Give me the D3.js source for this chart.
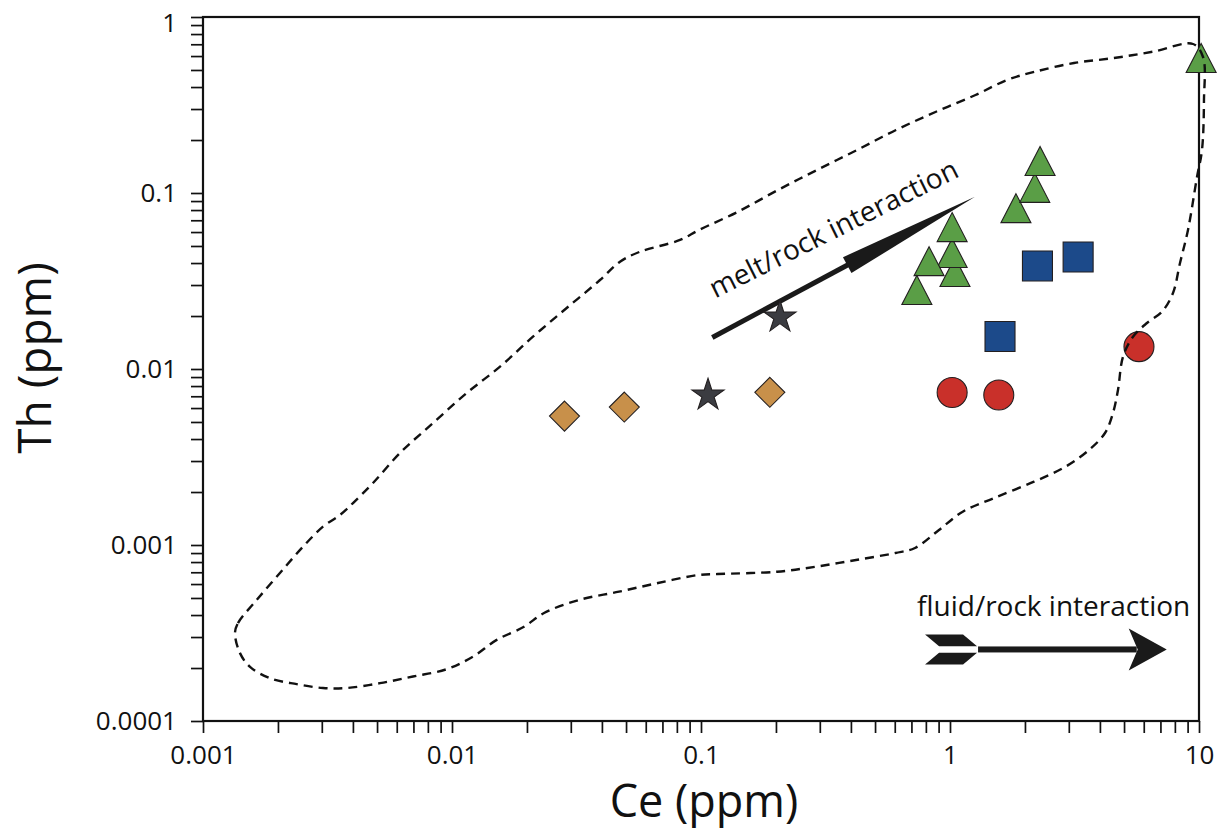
<!DOCTYPE html>
<html>
<head>
<meta charset="utf-8">
<script src="https://cdn.jsdelivr.net/npm/d3@7"></script>
<style>
  html, body { margin: 0; padding: 0; background: #fff; }
  svg { display: block; font-family: "Open Sans", "DejaVu Sans", sans-serif; }
</style>
</head>
<body>
<svg id="chart" width="1227" height="832"></svg>
<script>
// ---------------- data ----------------
const ceTickLabels = ["0.001", "0.01", "0.1", "1", "10"];
const thTickLabels = ["0.0001", "0.001", "0.01", "0.1", "1"];

// green triangles
const triCe = [1.047, 1.02, 1.02, 0.824, 0.736, 1.84, 2.19, 2.30, 10.2];
const triTh = [0.0356, 0.0456, 0.064, 0.041, 0.0281, 0.082, 0.107, 0.152, 0.585];
// blue squares
const sqCe = [2.245, 3.27, 1.588];
const sqTh = [0.0385, 0.0433, 0.0153];
// red circles
const cirCe = [1.02, 1.57, 5.74];
const cirTh = [0.00735, 0.00712, 0.0134];
// orange diamonds
const diaCe = [0.0283, 0.0492, 0.189];
const diaTh = [0.0054, 0.00608, 0.00737];
// dark stars
const starCe = [0.1067, 0.2075];
const starTh = [0.0071, 0.0197];

// dashed envelope (closed)
const envCe = [0.001344, 0.001382, 0.001643, 0.002037, 0.002522, 0.003033, 0.00355, 0.004004, 0.004817, 0.006182,
  0.008389, 0.01146, 0.01559, 0.02114, 0.02888, 0.0393, 0.04728, 0.05689, 0.08236, 0.09817,
  0.1408, 0.2037, 0.2922, 0.4231, 0.6069, 0.8786, 1.266, 1.694, 2.194, 3.148,
  4.556, 6.537, 9.461, 10.38, 10.47, 10.28, 9.817, 9.032, 8.389, 7.863,
  7.102, 6.182, 5.432, 4.953, 4.728, 4.514, 4.193, 3.615, 2.91, 2.174,
  1.502, 1.125, 0.9033, 0.7235, 0.6041, 0.4193, 0.2895, 0.2019, 0.1166, 0.09727,
  0.06721, 0.04685, 0.03236, 0.02342, 0.01946, 0.01512, 0.01214, 0.009522, 0.006972, 0.005138,
  0.003777, 0.003033, 0.002378, 0.001858, 0.001545, 0.001408];
const envTh = [0.000316, 0.00036, 0.000487, 0.000693, 0.000978, 0.001271, 0.001481, 0.001732, 0.002251, 0.003332,
  0.004933, 0.007305, 0.01031, 0.01526, 0.02221, 0.03203, 0.04072, 0.04639, 0.05408, 0.06163,
  0.07828, 0.104, 0.1351, 0.1755, 0.228, 0.2896, 0.3604, 0.4386, 0.4889, 0.5477,
  0.5848, 0.6353, 0.7024, 0.5926, 0.3376, 0.1755, 0.1233, 0.06163, 0.04002, 0.02703,
  0.02116, 0.01826, 0.01526, 0.01175, 0.0076, 0.005623, 0.004328, 0.003465, 0.002786, 0.002289,
  0.001849, 0.001546, 0.001217, 0.000962, 0.000901, 0.000822, 0.000753, 0.000705, 0.000684, 0.000675,
  0.000608, 0.000543, 0.000487, 0.000411, 0.000343, 0.000289, 0.000232, 0.000197, 0.000179, 0.000164,
  0.000154, 0.000154, 0.000162, 0.000175, 0.000203, 0.000243];

// annotation arrows (data coordinates)
const meltArrowCe = [0.111, 1.26];     // tail, tip
const meltArrowTh = [0.0151, 0.0953];
const fluidArrowCe = [0.794, 7.42];    // tail, tip
const fluidArrowTh = [0.000255, 0.000255];

// ---------------- layout ----------------
const svg = d3.select("#chart");
const L = 203, R = 1199, T = 17, B = 721;
const x = d3.scaleLog().domain([0.001, 10]).range([L, R]);
const y = d3.scaleLog().domain([0.0001, 1]).range([B, T]);
const isPow10 = v => Math.abs(Math.log10(v) - Math.round(Math.log10(v))) < 1e-9;

const stroke = "#231f20";
const fontTick = 26;

// axes
const xAxis = d3.axisBottom(x)
  .tickValues(x.ticks())
  .tickSize(12)
  .tickPadding(13)
  .tickFormat(d => isPow10(d) ? ceTickLabels[Math.round(Math.log10(d)) + 3] : "");
const gx = svg.append("g").attr("transform", `translate(0,${B})`).call(xAxis);

const yAxis = d3.axisLeft(y)
  .tickValues(y.ticks())
  .tickSize(12)
  .tickPadding(14)
  .tickFormat(d => isPow10(d) ? thTickLabels[Math.round(Math.log10(d)) + 4] : "");
const gy = svg.append("g").attr("transform", `translate(${L},0)`).call(yAxis);

[gx, gy].forEach(g => {
  g.select(".domain").remove();
  g.selectAll(".tick line").attr("stroke", "#111").attr("stroke-width", 1.7);
  g.selectAll(".tick text")
    .filter(function () { return this.textContent === ""; }).remove();
  g.selectAll(".tick text").attr("fill", "#111")
    .style("font-family", '"Open Sans", sans-serif')
    .style("font-size", fontTick + "px");
});
// the top label "1" sits a little below its tick in the reference
gy.selectAll(".tick text").filter(d => d === 1).attr("dy", "0.55em");

// frame
svg.append("rect")
  .attr("x", L).attr("y", T).attr("width", R - L).attr("height", B - T)
  .attr("fill", "none").attr("stroke", "#111").attr("stroke-width", 2.2);

// axis titles
svg.append("text")
  .attr("x", (L + R) / 2 + 3).attr("y", 817)
  .attr("text-anchor", "middle")
  .style("font-size", "45px").attr("fill", "#111")
  .text("Ce (ppm)");
svg.append("text")
  .attr("transform", `translate(51,358) rotate(-90)`)
  .attr("text-anchor", "middle")
  .style("font-size", "46px").attr("fill", "#111")
  .text("Th (ppm)");

// ---------------- annotations ----------------
// melt/rock arrow
(function () {
  const x0 = x(meltArrowCe[0]), y0 = y(meltArrowTh[0]);
  const x1 = x(meltArrowCe[1]), y1 = y(meltArrowTh[1]);
  const dx = x1 - x0, dy = y1 - y0, len = Math.hypot(dx, dy);
  const ux = dx / len, uy = dy / len, nx = -uy, ny = ux;
  const headLen = 145, headHalf = 9;
  const bx = x1 - ux * headLen, by = y1 - uy * headLen;
  svg.append("line")
    .attr("x1", x0).attr("y1", y0).attr("x2", bx + ux * 2).attr("y2", by + uy * 2)
    .attr("stroke", "#1a1a1a").attr("stroke-width", 5);
  svg.append("path")
    .attr("d", d3.line()([[x1, y1], [bx + nx * headHalf, by + ny * headHalf], [bx - nx * headHalf, by - ny * headHalf]]) + "Z")
    .attr("fill", "#1a1a1a");
  svg.append("text")
    .attr("transform", `translate(${x0 + 3},${y0 - 39}) rotate(-26.5)`)
    .style("font-size", "28px").attr("fill", "#111")
    .text("melt/rock interaction");
})();

// fluid/rock arrow
(function () {
  const x0 = x(fluidArrowCe[0]), y0 = y(fluidArrowTh[0]);
  const x1 = x(fluidArrowCe[1]);
  const fill = "#1a1a1a";
  const poly = pts => d3.line()(pts.map(p => [x0 + p[0], y0 + p[1]])) + "Z";
  svg.append("path").attr("d", poly([[0, -15], [38, -15], [52, -3.3], [14, -3.3]])).attr("fill", fill);
  svg.append("path").attr("d", poly([[14, 3.3], [52, 3.3], [38, 15], [0, 15]])).attr("fill", fill);
  svg.append("rect").attr("x", x0 + 53).attr("y", y0 - 3).attr("width", (x1 - 30) - (x0 + 53)).attr("height", 6).attr("fill", fill);
  svg.append("path")
    .attr("d", d3.line()([[x1, y0], [x1 - 38, y0 - 21], [x1 - 29, y0], [x1 - 38, y0 + 21]]) + "Z")
    .attr("fill", fill);
  svg.append("text")
    .attr("x", x0 - 8).attr("y", y0 - 33)
    .style("font-size", "28px").attr("fill", "#111")
    .text("fluid/rock interaction");
})();

// ---------------- markers ----------------
const triPath = (w, h) => `M0,${-h / 2}L${w / 2},${h / 2}L${-w / 2},${h / 2}Z`;
const diaPath = r => `M0,${-r}L${r},0L0,${r}L${-r},0Z`;
const sqPath = s => `M${-s / 2},${-s / 2}h${s}v${s}h${-s}Z`;

function plotSeries(ceArr, thArr, d, fill) {
  svg.append("g").selectAll("path")
    .data(ceArr.map((c, i) => [c, thArr[i]]))
    .join("path")
    .attr("transform", p => `translate(${x(p[0])},${y(p[1])})`)
    .attr("d", d)
    .attr("fill", fill)
    .attr("stroke", stroke)
    .attr("stroke-width", 1.1)
    .attr("stroke-linejoin", "miter");
}
plotSeries(diaCe, diaTh, diaPath(15), "#c8904a");
plotSeries(starCe, starTh, d3.symbol(d3.symbolStar, 320)(), "#3b3c41");
plotSeries(cirCe, cirTh, d3.symbol(d3.symbolCircle, Math.PI * 15 * 15)(), "#c9302a");
plotSeries(sqCe, sqTh, sqPath(30), "#1c4a8a");
plotSeries(triCe, triTh, triPath(30, 29), "#5a9e46");

// ---------------- envelope ----------------
svg.append("path")
  .attr("d", d3.line().curve(d3.curveCatmullRomClosed.alpha(0.5))
    .x(p => x(p[0])).y(p => y(p[1]))(envCe.map((c, i) => [c, envTh[i]])))
  .attr("fill", "none")
  .attr("stroke", "#111")
  .attr("stroke-width", 2.4)
  .attr("stroke-dasharray", "9,6");
</script>
</body>
</html>
